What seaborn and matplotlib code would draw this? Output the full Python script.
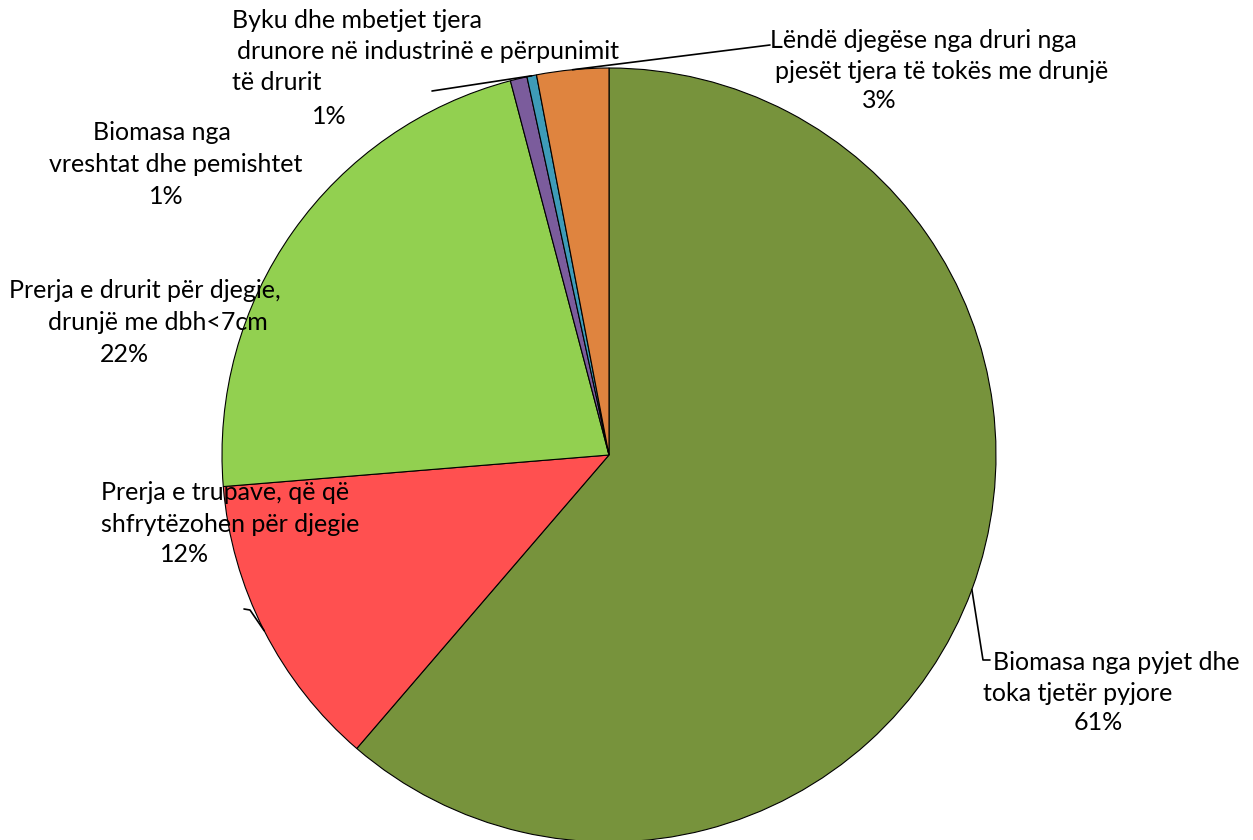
"""Pie chart of wood biomass sources (Albanian labels)."""

import matplotlib

matplotlib.use("Agg")

import matplotlib.pyplot as plt
import numpy as np
import seaborn as sns
from matplotlib.lines import Line2D

# categories, clockwise from 12 o'clock
categories = [
    "Biomasa nga pyjet dhe\ntoka tjetër pyjore",
    "Prerja e trupave, që që\nshfrytëzohen për djegie",
    "Prerja e drurit për djegie,\ndrunjë me dbh<7cm",
    "Biomasa nga\nvreshtat dhe pemishtet",
    "Byku dhe mbetjet tjera\ndrunore në industrinë e përpunimit\ntë drurit",
    "Lëndë djegëse nga druri nga\npjesët tjera të tokës me drunjë",
]
shares = [61.3, 12.4, 22.2, 0.7, 0.4, 3.0]
pct_labels = ["61%", "12%", "22%", "1%", "1%", "3%"]
colors = ["#77933C", "#FF5050", "#92D050", "#7B5C9C", "#3E9BB8", "#DF843F"]

W, H = 1253, 840
CX, CY, R = 609, 455, 387

sns.set_theme(style="white")
plt.rcParams["font.family"] = ["Lato", "DejaVu Sans"]

fig = plt.figure(figsize=(W / 100, H / 100), dpi=100)
ax = fig.add_axes([(CX - R) / W, (H - CY - R) / H, 2 * R / W, 2 * R / H])

wedges, _ = ax.pie(
    shares,
    colors=sns.color_palette(colors),
    startangle=90,
    counterclock=False,
    radius=1,
    wedgeprops=dict(edgecolor="black", linewidth=0.8),
)
ax.set_xlim(-1, 1)
ax.set_ylim(-1, 1)
ax.axis("off")


def fx(x, y):
    """Image pixel coords (top-left origin) -> figure fraction."""
    return x / W, 1 - y / H


# label layout: left x of each name line (or centre), y of first line, ha
name_pos = [
    ([993, 983], 662, "left"),
    ([225, 230], 493, "center"),
    ([145, 158], 291, "center"),
    ([162, 176], 133, "center"),
    ([232, 237, 232], 20, "left"),
    ([770, 775], 40, "left"),
]
pct_pos = [(1098, 722), (185, 555), (124, 354), (166, 196), (329, 116), (879, 101)]
line_h = 31.5

for name, (xs, y, ha), (px, py), pct in zip(categories, name_pos, pct_pos, pct_labels):
    for i, line in enumerate(name.split("\n")):
        fig.text(*fx(xs[i], y + i * line_h), line, ha=ha, va="center",
                 fontsize=18, color="black")
    fig.text(*fx(px, py), pct, ha="center", va="center", fontsize=18,
             color="black")


def anchor(idx):
    """Point on the rim at the middle of wedge idx, in image pixels."""
    w = wedges[idx]
    t = np.deg2rad((w.theta1 + w.theta2) / 2)
    return CX + R * np.cos(t), CY - R * np.sin(t)


# leader lines: wedge -> elbow -> label
leaders = {
    0: [(983, 660), (990, 660)],
    1: [(250, 610), (244, 609)],
    4: [(432, 91)],
    5: [(762, 46), (770, 45)],
}
for idx, pts in leaders.items():
    path = [anchor(idx)] + pts
    lx, ly = zip(*[fx(x, y) for x, y in path])
    fig.add_artist(Line2D(lx, ly, color="black", linewidth=1.2,
                          transform=fig.transFigure))

fig.savefig("out.png", dpi=100, facecolor="white")
